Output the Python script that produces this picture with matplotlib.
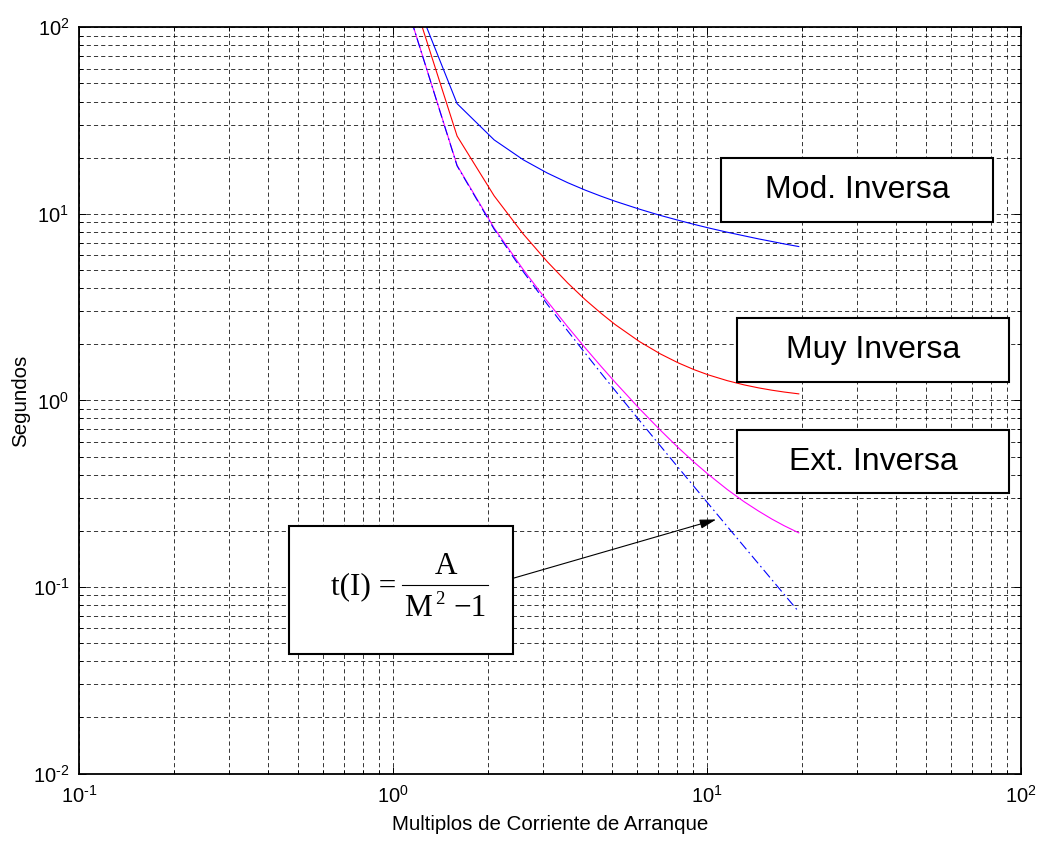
import matplotlib
matplotlib.use("Agg")
import matplotlib.pyplot as plt
from matplotlib.patches import Rectangle
from matplotlib.lines import Line2D
from matplotlib.ticker import FuncFormatter, LogLocator
import math

plt.rcParams['font.family'] = ['Liberation Sans', 'DejaVu Sans']
plt.rcParams['lines.scale_dashes'] = False
plt.rcParams['axes.unicode_minus'] = False

# ---- data ----
M = [1.1, 1.6, 2.1, 2.6, 3.1, 3.6, 4.1, 4.6, 5.1, 6.1, 7.1, 8.1, 9.1, 10.1,
     11.6, 13.1, 14.6, 16.1, 17.6, 19.6]
t_mod = [189.7, 38.97, 24.91, 19.48, 16.55, 14.69, 13.39, 12.43, 11.68, 10.59,
         9.81, 9.24, 8.78, 8.41, 7.97, 7.63, 7.34, 7.11, 6.90, 6.68]
t_muy = [187.7, 26.12, 12.48, 7.79, 5.54, 4.26, 3.46, 2.93, 2.55, 2.065,
         1.776, 1.589, 1.461, 1.370, 1.276, 1.212, 1.167, 1.134, 1.109, 1.084]
t_ext = [134.4, 18.20, 8.39, 5.02, 3.40, 2.48, 1.906, 1.521, 1.250, 0.901,
         0.693, 0.558, 0.466, 0.401, 0.333, 0.287, 0.255, 0.231, 0.213, 0.195]
t_formula = [134.3, 18.08, 8.27, 4.896, 3.275, 2.358, 1.784, 1.399, 1.128, 0.779,
             0.571, 0.4365, 0.3447, 0.2792, 0.2111, 0.1653, 0.1329, 0.1092,
             0.0913, 0.0736]

box_labels = ["Mod. Inversa", "Muy Inversa", "Ext. Inversa"]
xlabel = "Multiplos de Corriente de Arranque"
ylabel = "Segundos"
xlim = (0.1, 100)
ylim = (0.01, 100)

W, H = 1038, 842
fig = plt.figure(figsize=(W / 100, H / 100), dpi=100)
L, R, T, B = 79, 1021, 27.3, 773.5
ax = fig.add_axes([L / W, 1 - B / H, (R - L) / W, (B - T) / H])

ax.set_xscale('log')
ax.set_yscale('log')
ax.set_xlim(*xlim)
ax.set_ylim(*ylim)

ax.plot(M, t_mod, color=(0, 0, 1), lw=0.8)
ax.plot(M, t_muy, color=(1, 0, 0), lw=0.8)
ax.plot(M, t_ext, color=(1, 0, 1), lw=0.8)
ax.plot(M, t_formula, color=(0, 0, 1), lw=0.8, linestyle=(0, (7, 2.5, 1.2, 2.5)))


def _fmt(v, p):
    e = round(math.log10(v))
    s = ('\u2010%d' % -e) if e < 0 else '%d' % e
    return r'$\mathdefault{10^{%s}}$' % s


fmt = FuncFormatter(_fmt)
for axis in (ax.xaxis, ax.yaxis):
    axis.set_major_locator(LogLocator(base=10, numticks=10))
    axis.set_major_formatter(fmt)

ax.grid(True, which='both', color='k', linestyle=(0, (3.0, 2.2)), linewidth=0.55)
ax.set_axisbelow(True)
for s in ax.spines.values():
    s.set_linewidth(1.3)
ax.tick_params(which='both', direction='in', top=True, right=True, width=0.7,
               labelsize=14.5)
ax.tick_params(which='major', length=5, pad=7)
ax.tick_params(which='minor', length=3)
ax.tick_params(axis='x', which='major', pad=8)

ax.set_xlabel(xlabel, fontsize=14.8, labelpad=6)
ax.set_ylabel(ylabel, fontsize=14.8, labelpad=2)


def fp(x, y):
    return (x / W, 1 - y / H)


def add_box(x0, y0, x1, y1):
    r = Rectangle(fp(x0, y1), (x1 - x0) / W, (y1 - y0) / H, transform=fig.transFigure,
                  facecolor='white', edgecolor='black', linewidth=1.5, zorder=5)
    fig.add_artist(r)


boxes = [(721, 158, 993, 222), (737, 318, 1009, 382), (737, 430, 1009, 493)]
for (x0, y0, x1, y1), lab in zip(boxes, box_labels):
    add_box(x0, y0, x1, y1)
    cx, cy = fp((x0 + x1) / 2, (y0 + y1) / 2)
    fig.text(cx, cy, lab, fontsize=23, ha='center', va='center', zorder=6)

# formula box
add_box(289, 526, 513, 654)
serif = ['Liberation Serif', 'DejaVu Serif']
fs = 22.5
x, y = fp(396, 587)
fig.text(x, y, "t(I) =", family=serif, fontsize=fs, ha='right', va='center', zorder=6)
x, y = fp(446, 566)
fig.text(x, y, "A", family=serif, fontsize=fs, ha='center', va='center', zorder=6)
x, y = fp(404, 608)
fig.text(x, y, "M", family=serif, fontsize=fs, ha='left', va='center', zorder=6)
x, y = fp(435, 599)
fig.text(x, y, "2", family=serif, fontsize=13.5, ha='left', va='center', zorder=6)
x, y = fp(487, 608)
fig.text(x, y, "\u22121", family=serif, fontsize=fs, ha='right', va='center', zorder=6)
(x0, yb), (x1, _) = fp(402, 584.5), fp(488, 584.5)
fig.add_artist(Line2D([x0, x1], [yb, yb], transform=fig.transFigure, color='k',
                      lw=0.8, zorder=6))

# arrow from formula box to dashed curve
ax.annotate("", xy=(10.7, 0.23), xycoords='data',
            xytext=fp(513, 578.3), textcoords='figure fraction',
            arrowprops=dict(arrowstyle='-|>,head_length=1.0,head_width=0.28',
                            color='k', lw=0.8, mutation_scale=10,
                            shrinkA=0, shrinkB=0),
            zorder=7, annotation_clip=False)

fig.savefig("out.png", dpi=100)
